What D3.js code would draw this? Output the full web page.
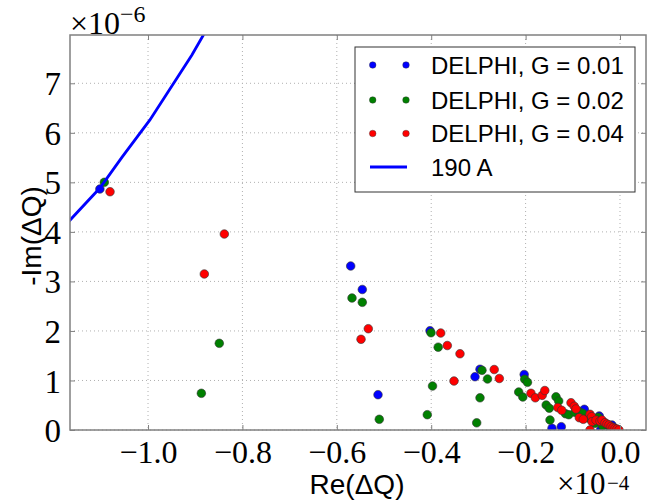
<!DOCTYPE html>
<html>
<head>
<meta charset="utf-8">
<script src="https://cdn.jsdelivr.net/npm/d3@7"></script>
<style>
  html, body { margin: 0; padding: 0; background: #fff; }
  svg { display: block; }
</style>
</head>
<body>
<svg id="chart" width="650" height="501"></svg>
<script>
// ---- data (x in units of 1e-4, y in units of 1e-6) ----
const blueX = [-1.102, -0.5706, -0.546, -0.5127, -0.4025, -0.2966, -0.3072, -0.203, -0.1441, -0.1244, -0.0756, -0.0439, -0.041, -0.017];
const blueY = [4.866, 3.311, 2.837, 0.713, 2.005, 1.226, 1.076, 1.121, 0.034, 0.067, 0.418, 0.283, 0.0, 0.10];

const greenX = [-1.0926, -0.887, -0.849, -0.5678, -0.546, -0.510, -0.4083, -0.4004, -0.3852, -0.3972, -0.2924, -0.2807, -0.2966, -0.3036, -0.2019, -0.196, -0.2146, -0.2059, -0.1564, -0.1498, -0.1483, -0.1356, -0.1299, -0.1155, -0.1085, -0.0953, -0.0862, -0.079, -0.046, -0.053, -0.0367, -0.0227, -0.0678, -0.0127];
const greenY = [5.001, 0.741, 1.750, 2.665, 2.578, 0.216, 0.309, 1.964, 1.672, 0.888, 1.205, 1.030, 0.650, 0.145, 1.026, 0.963, 0.767, 0.666, 0.505, 0.440, 0.202, 0.670, 0.585, 0.329, 0.309, 0.357, 0.369, 0.337, 0.256, 0.135, 0.081, 0.067, 0.242, 0.040];

const redX = [-1.0805, -0.8807, -0.8383, -0.5487, -0.5333, -0.3799, -0.3659, -0.339, -0.3517, -0.2665, -0.2557, -0.1886, -0.1794, -0.1648, -0.1593, -0.1318, -0.1235, -0.1038, -0.097, -0.0932, -0.0862, -0.0778, -0.0636, -0.06, -0.0593, -0.0636, -0.0508, -0.0424, -0.0381, -0.0318, -0.0275, -0.0233, -0.0191, -0.0148, -0.0106, -0.0064, -0.0021];
const redY = [4.811, 3.150, 3.957, 1.831, 2.045, 1.958, 1.706, 1.540, 0.989, 1.221, 1.040, 0.741, 0.650, 0.700, 0.797, 0.454, 0.398, 0.551, 0.480, 0.424, 0.248, 0.216, 0.317, 0.269, 0.168, 0.0, 0.20, 0.18, 0.20, 0.147, 0.121, 0.101, 0.071, 0.050, 0.030, 0.020, 0.0];

const lineX = [-1.20, -1.165, -1.102, -1.055, -0.996, -0.907, -0.883, -0.86];
const lineY = [3.88, 4.24, 4.886, 5.51, 6.26, 7.57, 7.97, 8.36];

const xTicks = [-1.0, -0.8, -0.6, -0.4, -0.2, 0.0];
const yTicks = [0, 1, 2, 3, 4, 5, 6, 7];

const seriesNames = ["DELPHI, G = 0.01", "DELPHI, G = 0.02", "DELPHI, G = 0.04", "190 A"];
const seriesColors = ["#0000ff", "#008000", "#ff0000", "#0000ff"];

// ---- layout ----
const L = 70, R = 646, T = 35, B = 430;
const svg = d3.select("#chart");
const x = d3.scaleLinear().domain([-1.1653, 0.0551]).range([L, R]);
const y = d3.scaleLinear().domain([0, 7.975]).range([B, T]);

const serif = "'Liberation Serif', 'DejaVu Serif', serif";
const sans = "'Liberation Sans', Arial, sans-serif";

// clip
svg.append("defs").append("clipPath").attr("id", "clip")
  .append("rect").attr("x", L).attr("y", T).attr("width", R - L).attr("height", B - T);

// grid
const grid = svg.append("g");
grid.selectAll("line.gx").data(xTicks).join("line")
  .attr("x1", d => x(d)).attr("x2", d => x(d)).attr("y1", T).attr("y2", B)
  .attr("stroke", "#b0b0b0").attr("stroke-width", 1).attr("stroke-dasharray", "1,3");
grid.selectAll("line.gy").data(yTicks).join("line")
  .attr("x1", L).attr("x2", R).attr("y1", d => y(d)).attr("y2", d => y(d))
  .attr("stroke", "#b0b0b0").attr("stroke-width", 1).attr("stroke-dasharray", "1,3");

// scatter
const plot = svg.append("g").attr("clip-path", "url(#clip)");
const series = [
  {xs: blueX, ys: blueY, c: seriesColors[0]},
  {xs: greenX, ys: greenY, c: seriesColors[1]},
  {xs: redX, ys: redY, c: seriesColors[2]}
];
series.forEach(s => {
  plot.append("g").selectAll("circle")
    .data(s.xs.map((v, i) => [v, s.ys[i]]))
    .join("circle")
    .attr("cx", d => x(d[0])).attr("cy", d => y(d[1])).attr("r", 4.3)
    .attr("fill", s.c).attr("stroke", "#333").attr("stroke-width", 0.6);
});

// line
plot.append("path")
  .datum(lineX.map((v, i) => [v, lineY[i]]))
  .attr("d", d3.line().x(d => x(d[0])).y(d => y(d[1])))
  .attr("fill", "none").attr("stroke", seriesColors[3]).attr("stroke-width", 2.8);

// axes frame
svg.append("rect").attr("x", L).attr("y", T).attr("width", R - L).attr("height", B - T)
  .attr("fill", "none").attr("stroke", "#808080").attr("stroke-width", 1.5);

// ticks (inward) using d3 axes
const axB = svg.append("g").attr("transform", `translate(0,${B})`)
  .call(d3.axisBottom(x).tickValues(xTicks).tickSizeInner(-5).tickSizeOuter(0)
    .tickFormat(d => d3.format(".1f")(d).replace("-", "\u2212")).tickPadding(10));
const axT = svg.append("g").attr("transform", `translate(0,${T})`)
  .call(d3.axisTop(x).tickValues(xTicks).tickSizeInner(-5).tickSizeOuter(0).tickFormat(""));
const axL = svg.append("g").attr("transform", `translate(${L},0)`)
  .call(d3.axisLeft(y).tickValues(yTicks).tickSizeInner(-5).tickSizeOuter(0)
    .tickFormat(d3.format("d")).tickPadding(9));
const axR = svg.append("g").attr("transform", `translate(${R},0)`)
  .call(d3.axisRight(y).tickValues(yTicks).tickSizeInner(-5).tickSizeOuter(0).tickFormat(""));
[axB, axT, axL, axR].forEach(a => {
  a.select(".domain").remove();
  a.selectAll(".tick line").attr("stroke", "#808080");
  a.selectAll("text").attr("font-family", serif).attr("font-size", 33).attr("fill", "#000");
});
axB.selectAll("text").attr("font-size", 32).attr("dy", "0.71em");
axL.selectAll("text").attr("dy", "0.35em");

// multipliers
const m1 = svg.append("text").attr("x", 70).attr("y", 34).attr("font-family", serif).attr("font-size", 32).attr("fill", "#000");
m1.append("tspan").text("\u00d710");
m1.append("tspan").attr("dy", -12).attr("font-size", 24).text("\u22126");
svg.append("text").attr("x", 557).attr("y", 494).attr("font-family", serif).attr("font-size", 31)
  .attr("fill", "#000").text("\u00d710");
svg.append("text").attr("x", 607).attr("y", 490).attr("font-family", serif)
  .attr("font-size", 21).attr("fill", "#000").text("\u22124");

// axis labels
svg.append("text").attr("x", 357).attr("y", 494).attr("text-anchor", "middle")
  .attr("font-family", sans).attr("font-size", 28).attr("fill", "#000").text("Re(\u0394Q)");
svg.append("text").attr("transform", "translate(41,236) rotate(-90)").attr("text-anchor", "middle")
  .attr("font-family", sans).attr("font-size", 28).attr("fill", "#000").text("-Im(\u0394Q)");

// legend
const lg = svg.append("g");
lg.append("rect").attr("x", 355).attr("y", 47).attr("width", 280).attr("height", 145)
  .attr("fill", "#fff").attr("stroke", "#333").attr("stroke-width", 1);
const rowsY = [65, 100, 133.5, 167];
seriesNames.forEach((name, i) => {
  const ry = rowsY[i];
  if (i < 3) {
    [372.7, 406].forEach(cx => lg.append("circle").attr("cx", cx).attr("cy", ry).attr("r", 3.3)
      .attr("fill", seriesColors[i]).attr("stroke", "#333").attr("stroke-width", 0.4));
  } else {
    lg.append("line").attr("x1", 370).attr("x2", 407).attr("y1", ry).attr("y2", ry)
      .attr("stroke", seriesColors[i]).attr("stroke-width", 2.8);
  }
  lg.append("text").attr("x", 431).attr("y", ry).attr("dy", "0.36em")
    .attr("font-family", sans).attr("font-size", 24).attr("fill", "#000").text(name);
});
</script>
</body>
</html>
